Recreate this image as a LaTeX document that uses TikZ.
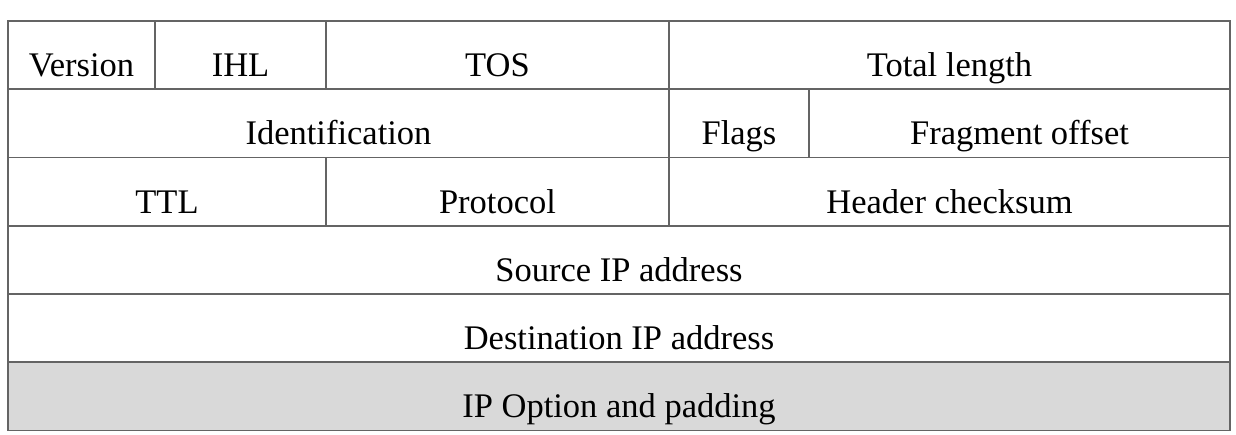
\documentclass[tikz,border=0pt]{standalone}
\usepackage{fontspec}
\setmainfont{Liberation Serif}
\usetikzlibrary{positioning}
\definecolor{rulegray}{RGB}{100,100,100}
\definecolor{optgray}{RGB}{217,217,217}

\begin{document}
\begin{tikzpicture}[
  x=1pt, y=-1pt,
  field/.style={draw=rulegray, line width=1.6pt, inner sep=0pt, outer sep=0pt,
    minimum height=68.25pt, text height=43pt, text depth=0pt,
    font=\fontsize{34.5}{40}\selectfont},
  optfield/.style={field, fill=optgray},
]
  \useasboundingbox (0,0) rectangle (1236,435);
  % row 1
  \node[field, minimum width=147pt, anchor=north west] (version) at (8,21) {Version};
  \node[field, minimum width=171pt, right=0pt of version] (ihl) {IHL};
  \node[field, minimum width=343pt, right=0pt of ihl] (tos) {TOS};
  \node[field, minimum width=561pt, right=0pt of tos] (totlen) {Total length};
  % row 2
  \node[field, minimum width=661pt, anchor=north west] (ident) at (version.south west) {Identification};
  \node[field, minimum width=140pt, right=0pt of ident] (flags) {Flags};
  \node[field, minimum width=421pt, right=0pt of flags] (fragoff) {Fragment offset};
  % row 3
  \node[field, minimum width=318pt, anchor=north west] (ttl) at (ident.south west) {TTL};
  \node[field, minimum width=343pt, right=0pt of ttl] (proto) {Protocol};
  \node[field, minimum width=561pt, right=0pt of proto] (chksum) {Header checksum};
  % rows 4 to 6
  \node[field, minimum width=1222pt, anchor=north west] (srcip) at (ttl.south west) {Source IP address};
  \node[field, minimum width=1222pt, below=0pt of srcip] (dstip) {Destination IP address};
  \node[optfield, minimum width=1222pt, below=0pt of dstip] (options) {IP Option and padding};
\end{tikzpicture}
\end{document}
